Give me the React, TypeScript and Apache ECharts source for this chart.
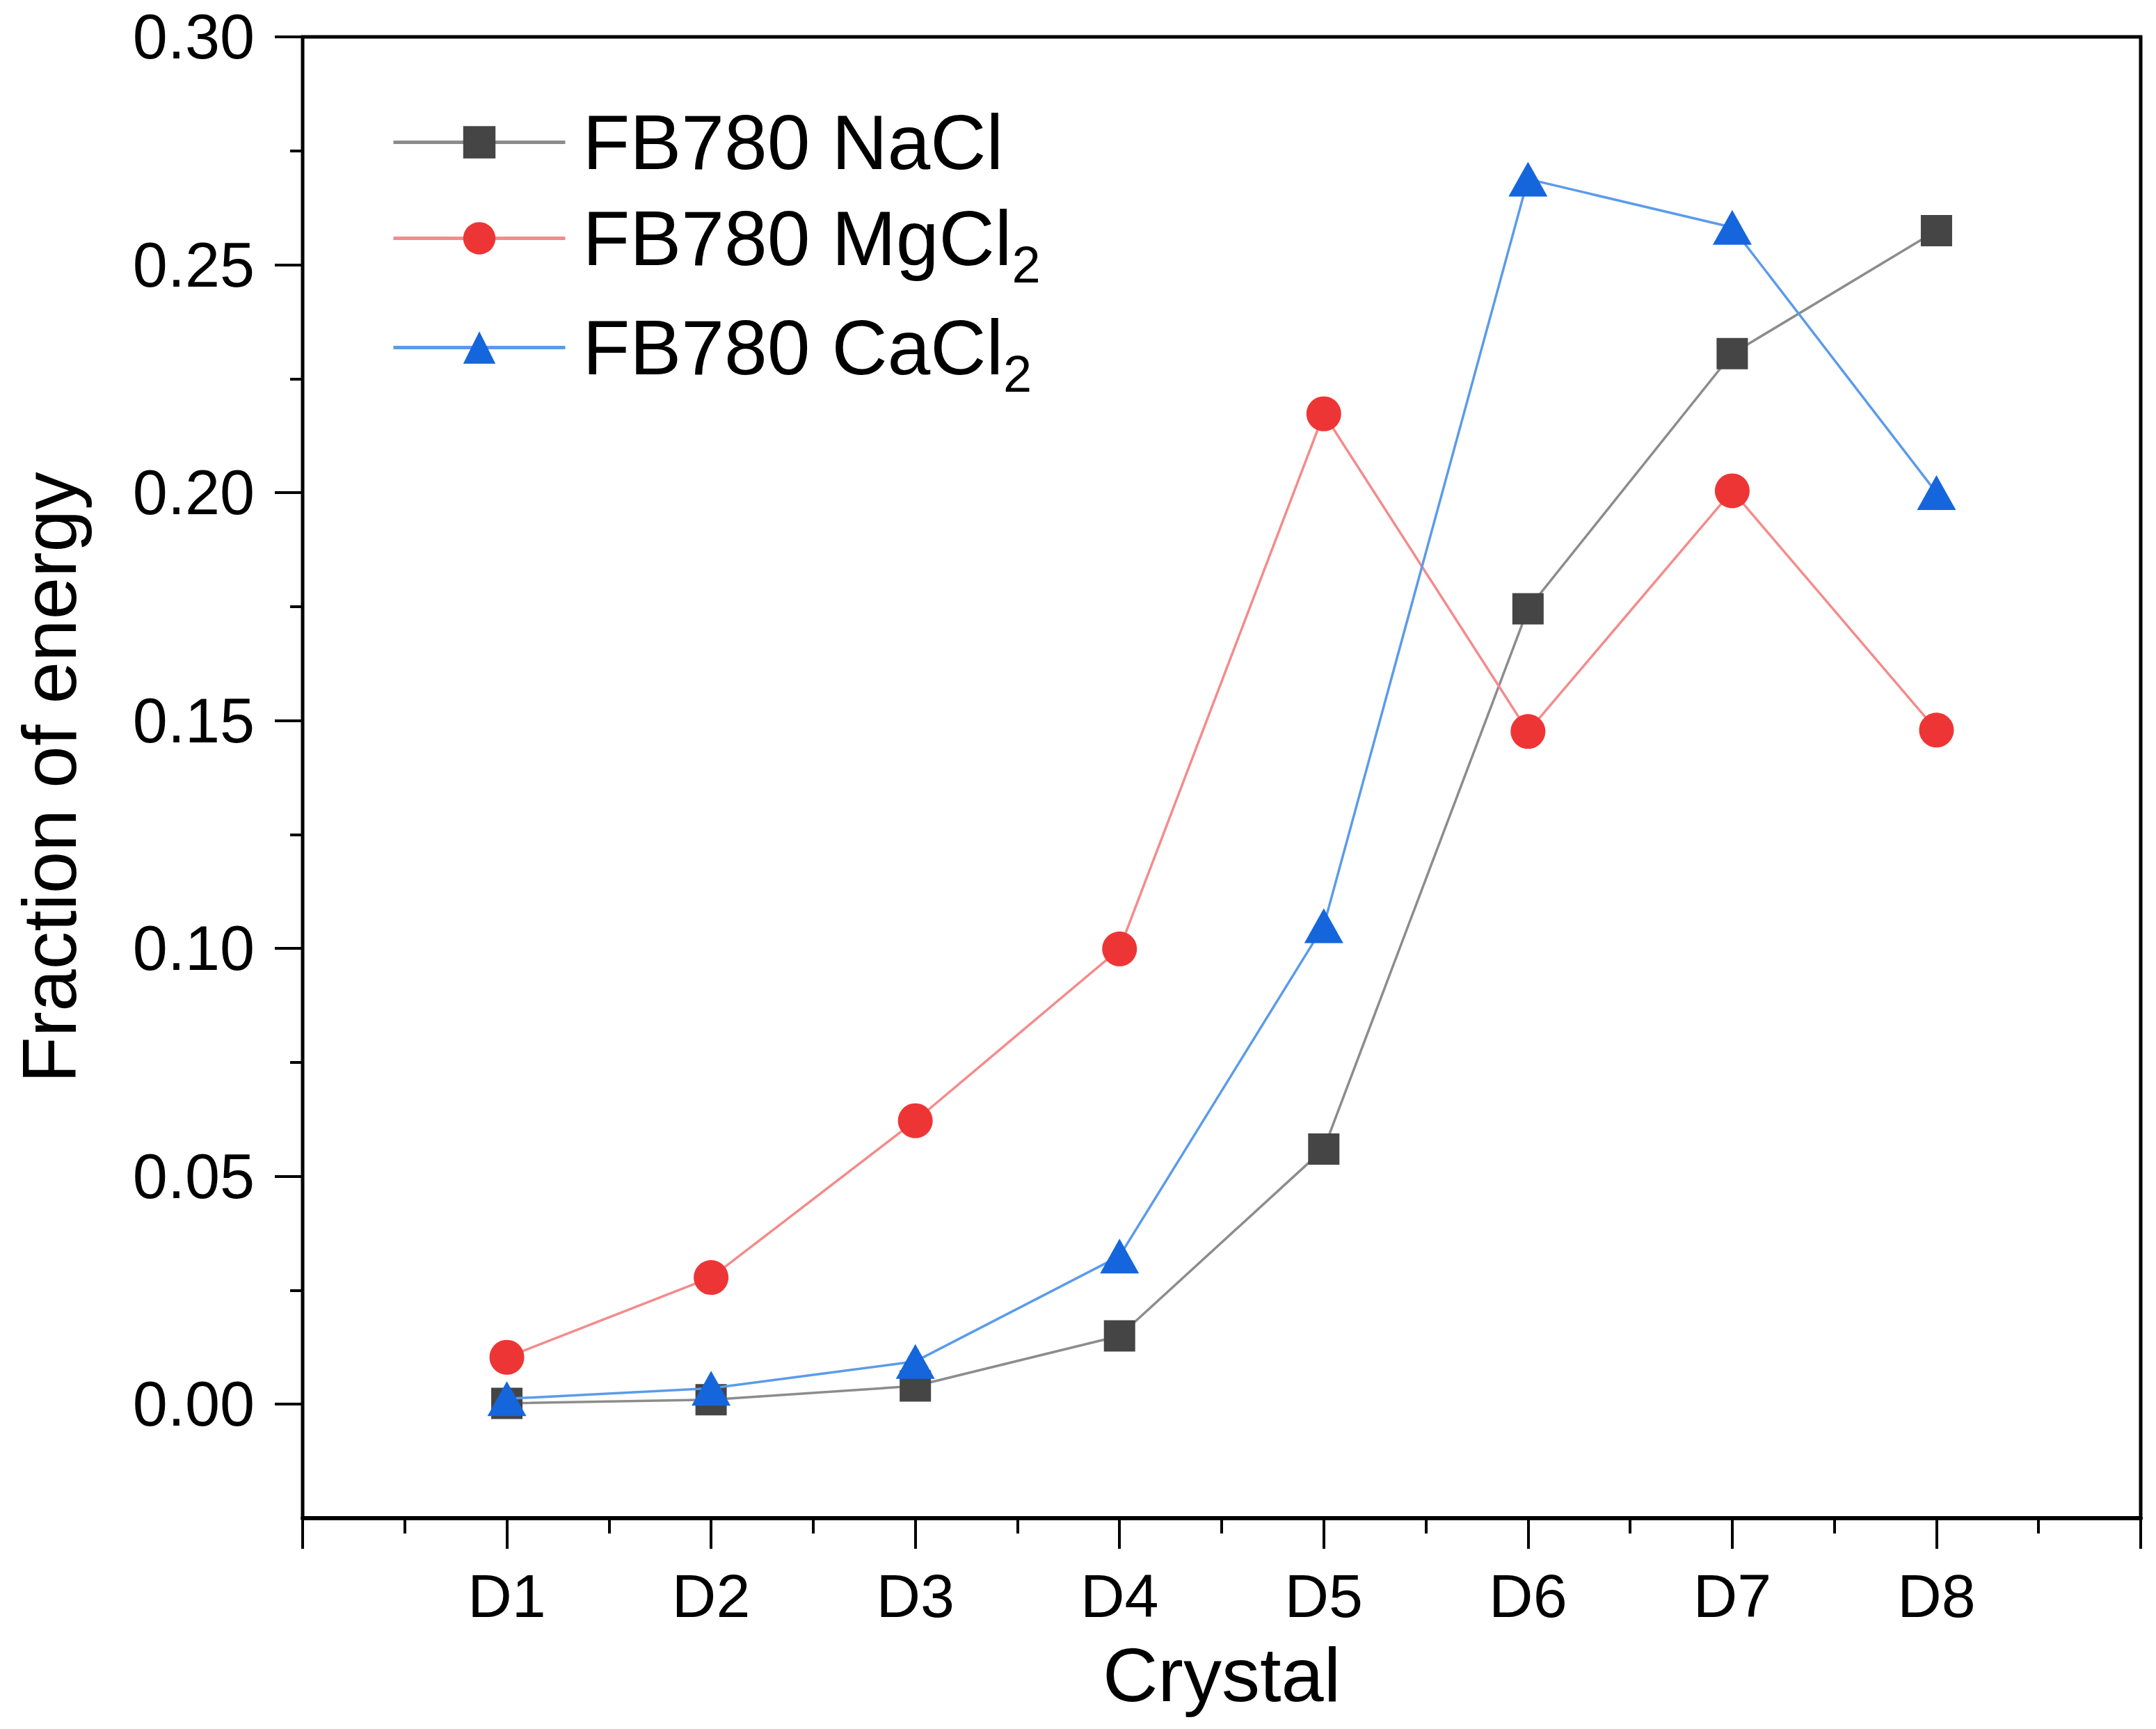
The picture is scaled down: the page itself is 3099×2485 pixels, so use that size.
import React, { useEffect, useRef } from "react";
import * as echarts from "echarts";

const categories = ["D1", "D2", "D3", "D4", "D5", "D6", "D7", "D8"];
const seriesNames = ["FB780 NaCl", "FB780 MgCl2", "FB780 CaCl2"];
const naclValues = [0.0002, 0.001, 0.004, 0.015, 0.056, 0.1745, 0.2305, 0.2575];
const mgcl2Values = [0.0103, 0.0278, 0.0622, 0.0999, 0.2173, 0.1476, 0.2004, 0.1479];
const cacl2Values = [0.0012, 0.0035, 0.0094, 0.0325, 0.105, 0.2688, 0.2582, 0.2];
const yMajorTicks = [0, 0.05, 0.1, 0.15, 0.2, 0.25, 0.3];
const yMinorTicks = [0.025, 0.075, 0.125, 0.175, 0.225, 0.275];

const FONT = "'Liberation Sans', Arial, sans-serif";

const toPoints = (vals: number[]) => vals.map((v, i) => [i + 1, v]);

export default function App() {
  const ref = useRef<HTMLDivElement>(null);
  useEffect(() => {
    document.body.style.margin = "0";
    const chart = echarts.init(ref.current!, null, { renderer: "svg" });
    const styles = [
      { marker: "#454545", line: "#8c8c8c", symbol: "rect", size: [45, 45] },
      { marker: "#ee3535", line: "#f48b8b", symbol: "circle", size: [50, 50] },
      { marker: "#1566dd", line: "#5b9bea", symbol: "triangle", size: [56, 50] },
    ];
    const values = [naclValues, mgcl2Values, cacl2Values];
    const legendTops = [149, 287, 444];
    const fmt = (n: string) =>
      n.endsWith("2") ? `{m|${n.slice(0, -1)}}{s|2}` : `{m|${n}}`;
    chart.setOption({
      animation: false,
      backgroundColor: "#fff",
      grid: {
        left: 435,
        top: 53,
        width: 2642,
        height: 2129,
        show: true,
        borderColor: "#000",
        borderWidth: 5,
        containLabel: false,
      },
      legend: seriesNames.map((name, i) => ({
        data: [name],
        left: 563,
        top: legendTops[i],
        orient: "vertical",
        itemWidth: 247,
        itemHeight: 58,
        padding: 0,
        formatter: fmt,
        lineStyle: { width: 5 },
        textStyle: {
          color: "#000",
          fontFamily: FONT,
          fontSize: 111,
          rich: {
            m: { fontSize: 111, fontFamily: FONT, color: "#000", lineHeight: 150, padding: [0, 0, 0, 20] },
            s: { fontSize: 74, fontFamily: FONT, color: "#000", lineHeight: 16, verticalAlign: "bottom" },
          },
        },
      })),
      xAxis: {
        type: "value",
        min: 0,
        max: 9,
        interval: 1,
        axisLine: { show: true, onZero: false, lineStyle: { color: "#000", width: 6 } },
        axisTick: { show: true, length: 44, lineStyle: { color: "#000", width: 4 } },
        minorTick: { show: true, splitNumber: 2, length: 22, lineStyle: { color: "#000", width: 4 } },
        axisLabel: {
          formatter: (v: number) => categories[v - 1] ?? "",
          fontSize: 88,
          margin: 67,
          color: "#000",
          fontFamily: FONT,
        },
        splitLine: { show: false },
        minorSplitLine: { show: false },
        name: "Crystal",
        nameLocation: "middle",
        nameGap: 169,
        nameTextStyle: { fontSize: 110, color: "#000", fontFamily: FONT },
      },
      yAxis: [
        {
          type: "value",
          min: -0.025,
          max: 0.3,
          axisLine: { show: true, onZero: false, lineStyle: { color: "#000", width: 4 } },
          axisTick: { show: true, customValues: yMajorTicks, length: 40, lineStyle: { color: "#000", width: 4 } },
          axisLabel: {
            customValues: yMajorTicks,
            formatter: (v: number) => v.toFixed(2),
            fontSize: 90,
            margin: 69,
            color: "#000",
            fontFamily: FONT,
          },
          splitLine: { show: false },
          name: "Fraction of energy",
          nameLocation: "middle",
          nameGap: 310,
          nameTextStyle: { fontSize: 109, color: "#000", fontFamily: FONT },
        },
        {
          type: "value",
          min: -0.025,
          max: 0.3,
          position: "left",
          axisLine: { show: false, onZero: false },
          axisTick: { show: true, customValues: yMinorTicks, length: 18, lineStyle: { color: "#000", width: 4 } },
          axisLabel: { show: false },
          splitLine: { show: false },
        },
      ],
      series: seriesNames.map((name, i) => ({
        name,
        type: "line",
        yAxisIndex: 0,
        data: toPoints(values[i]),
        symbol: styles[i].symbol,
        symbolSize: styles[i].size,
        showAllSymbol: true,
        itemStyle: { color: styles[i].marker },
        lineStyle: { color: styles[i].line, width: 3.5 },
        z: 3 + i,
      })),
    });
    return () => chart.dispose();
  }, []);
  return <div ref={ref} style={{ width: 3099, height: 2485 }} />;
}
